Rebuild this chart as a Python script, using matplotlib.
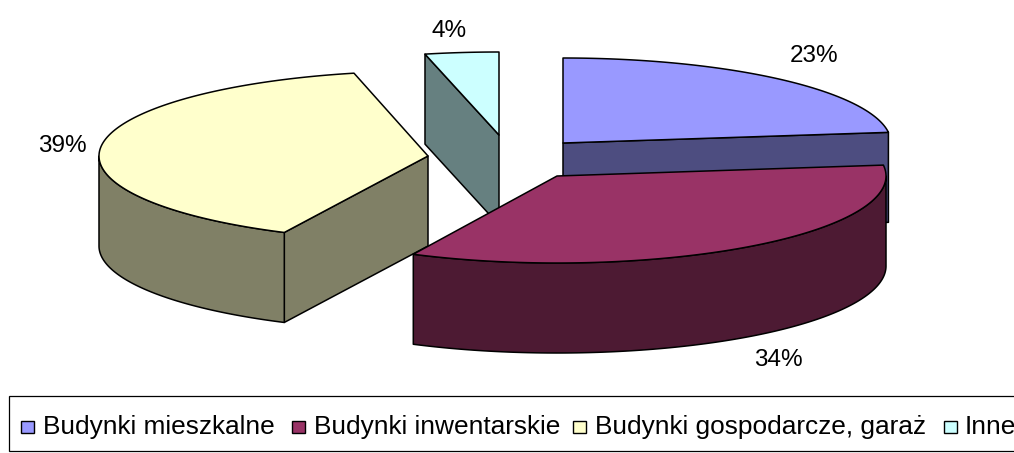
import numpy as np
import matplotlib
matplotlib.use("Agg")
import matplotlib.pyplot as plt
from matplotlib.patches import Polygon, Rectangle

categories = ["Budynki mieszkalne", "Budynki inwentarskie", "Budynki gospodarcze, garaż", "Inne"]
values = [23, 34, 39, 4]
colors = ["#9999FF", "#993366", "#FFFFCC", "#CCFFFF"]
percent_labels = ["23%", "34%", "39%", "4%"]

W, H = 1014, 453
plt.rcParams["font.family"] = ["Liberation Sans", "DejaVu Sans"]
fig = plt.figure(figsize=(W / 100, H / 100), dpi=100)
ax = fig.add_axes([0, 0, 1, 1])
ax.set_xlim(0, W)
ax.set_ylim(H, 0)
ax.axis("off")

apex = [(563, 143), (557, 176), (428, 156), (499, 135)]
radii = [(328, 85), (329, 87), (329, 85), (329, 83)]
skew = [(0, 0), (0, 0.7), (0.7, 1.4), (1.4, 0)]
label_pos = [(814, 56), (778, 360), (62, 146), (449, 31)]
order = [3, 0, 2, 1]
DEPTH = 90
LW = 1.1
EC = "black"

fractions = np.array(values) / sum(values)
edges = np.concatenate([[0], np.cumsum(fractions)]) * 360


def rim(i, a0, a1):
    cx, cy = apex[i]
    rx, ry = radii[i]
    t = np.radians(np.linspace(a0, a1, max(int(abs(a1 - a0)) * 2, 2)))
    return np.column_stack([cx + rx * np.sin(t), cy - ry * np.cos(t)])


def shade(c):
    return tuple(np.array(matplotlib.colors.to_rgb(c)) * 0.5)


def draw(pts, fc, z):
    ax.add_patch(Polygon(pts, closed=True, fc=fc, ec=EC, lw=LW, joinstyle="round", zorder=z))


z = 1
for i in order:
    a0, a1 = edges[i] + skew[i][0], edges[i + 1] + skew[i][1]
    c = colors[i]
    dark = shade(c)
    ap = np.array(apex[i], float)
    down = np.array([0, DEPTH])
    # radial cut faces that look toward the viewer
    if np.cos(np.radians(a0 - 90)) < -1e-6:
        p = rim(i, a0, a0)[0]
        draw([ap, p, p + down, ap + down], dark, z)
        z += 1
    if np.cos(np.radians(a1 + 90)) < -1e-6:
        p = rim(i, a1, a1)[0]
        draw([ap, p, p + down, ap + down], dark, z)
        z += 1
    w0, w1 = max(a0, 90), min(a1, 270)
    if w1 > w0:
        r = rim(i, w0, w1)
        draw(np.vstack([r, (r + down)[::-1]]), dark, z)
        z += 1
    draw(np.vstack([[ap], rim(i, a0, a1)]), c, z)
    z += 1

for (x, y), s in zip(label_pos, percent_labels):
    ax.text(x, y, s, ha="center", va="center", fontsize=17.5, color="black", zorder=50)

# legend
ax.add_patch(Rectangle((9, 396), 1100, 55, fc="white", ec=EC, lw=0.9, zorder=60))
swatch_x = [21, 292, 573, 944]
text_x = [43, 314, 595, 965]
for sx, tx, c, s in zip(swatch_x, text_x, colors, categories):
    ax.add_patch(Rectangle((sx, 421), 13, 12, fc=c, ec=EC, lw=1.0, zorder=61))
    ax.text(tx, 427, s, ha="left", va="center", fontsize=18.9, color="black", zorder=61, clip_on=True)

fig.savefig("out.png", dpi=100)
